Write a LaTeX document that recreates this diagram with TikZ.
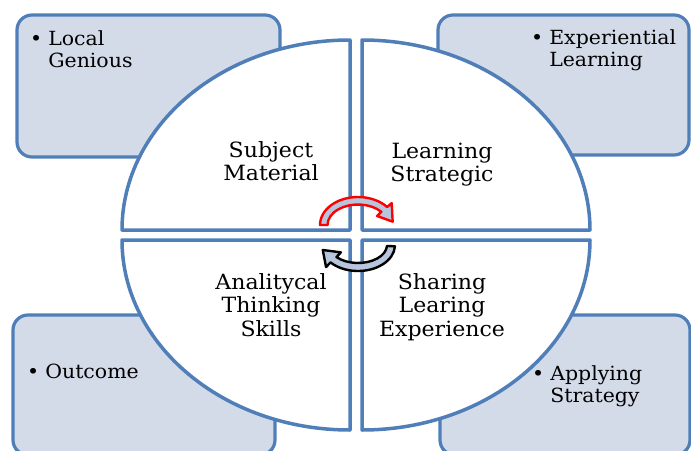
\documentclass[tikz,border=0pt]{standalone}
\usepackage{fontspec}
\setmainfont{DejaVu Serif}[FakeStretch=1.05]
\definecolor{qblue}{HTML}{4F7EB8}
\definecolor{boxfill}{HTML}{D3DBE8}
\definecolor{arrowfill}{HTML}{B7C6DD}
\tikzset{
  quad/.style={draw=qblue, line width=3.5pt, fill=white, line join=round},
  infobox/.style={draw=qblue, line width=3.2pt, fill=boxfill, rounded corners=15pt},
  qtext/.style={font=\fontsize{21}{23.5}\selectfont, anchor=base, inner sep=0pt},
  btext/.style={font=\fontsize{19.5}{22}\selectfont, anchor=base west, inner sep=0pt},
  redarrow/.style={draw=red, line width=2.4pt, fill=arrowfill, line join=round},
  blackarrow/.style={draw=black, line width=2.4pt, fill=arrowfill, line join=round}
}
\begin{document}
\begin{tikzpicture}[x=1pt,y=-1pt]
\useasboundingbox (0,0) rectangle (691,450);
\clip (0,0) rectangle (691,450);
% outer boxes
\draw[infobox] (17,15) rectangle (280,157);
\draw[infobox] (438,15) rectangle (689,155);
\draw[infobox] (13,315) rectangle (275,455);
\draw[infobox] (440,315) rectangle (690,455);
% quadrants
\coordinate (ctl) at (350,230);
\coordinate (ctr) at (362,230);
\coordinate (cbl) at (350,240);
\coordinate (cbr) at (362,240);
\draw[quad] (ctl) -- ([shift={(-228,0)}]ctl) arc[start angle=180, end angle=270, x radius=228, y radius=190] -- cycle;
\draw[quad] (ctr) -- ([shift={(0,-190)}]ctr) arc[start angle=270, end angle=360, x radius=228, y radius=190] -- cycle;
\draw[quad] (cbl) -- ([shift={(0,190)}]cbl) arc[start angle=90, end angle=180, x radius=228, y radius=190] -- cycle;
\draw[quad] (cbr) -- ([shift={(228,0)}]cbr) arc[start angle=0, end angle=90, x radius=228, y radius=190] -- cycle;
% circular arrows
\coordinate (rc) at (358,225);
\draw[redarrow] ([shift={(180:38 and 28)}]rc) arc[start angle=180, end angle=320, x radius=38, y radius=28]
  -- ([shift={(320:44 and 34)}]rc) -- ([shift={(352:35 and 24)}]rc) -- ([shift={(320:25 and 14)}]rc)
  -- ([shift={(320:30.5 and 20.5)}]rc) arc[start angle=320, end angle=180, x radius=30.5, y radius=20.5] -- cycle;
\coordinate (bc) at (358,245);
\draw[blackarrow] ([shift={(3:37 and 26)}]bc) arc[start angle=3, end angle=138, x radius=37, y radius=26]
  -- ([shift={(138:43 and 33)}]bc) -- ([shift={(168:36 and 24)}]bc) -- ([shift={(138:23 and 11)}]bc)
  -- ([shift={(138:29 and 18)}]bc) arc[start angle=138, end angle=3, x radius=29, y radius=18] -- cycle;
% quadrant texts
\node[qtext] (subj) at (271,157) {\begin{tabular}[t]{@{}c@{}}Subject\\Material\end{tabular}};
\node[qtext] (strat) at (442,158) {\begin{tabular}[t]{@{}c@{}}Learning\\Strategic\end{tabular}};
\node[qtext] (anal) at (271,289) {\begin{tabular}[t]{@{}c@{}}Analitycal\\Thinking\\Skills\end{tabular}};
\node[qtext] (share) at (442,289) {\begin{tabular}[t]{@{}c@{}}Sharing\\Learing\\Experience\end{tabular}};
% box texts
\node[btext] (local) at (30,45) {\begin{tabular}[t]{@{}l@{\hspace{6pt}}l@{}}\textbullet & Local\\ & Genious\end{tabular}};
\node[btext] (exper) at (531,44) {\begin{tabular}[t]{@{}l@{\hspace{6pt}}l@{}}\textbullet & Experiential\\ & Learning\end{tabular}};
\node[btext] (outc) at (27,378) {\begin{tabular}[t]{@{}l@{\hspace{6pt}}l@{}}\textbullet & Outcome\end{tabular}};
\node[btext] (apply) at (532,380) {\begin{tabular}[t]{@{}l@{\hspace{6pt}}l@{}}\textbullet & Applying\\ & Strategy\end{tabular}};
\end{tikzpicture}
\end{document}
